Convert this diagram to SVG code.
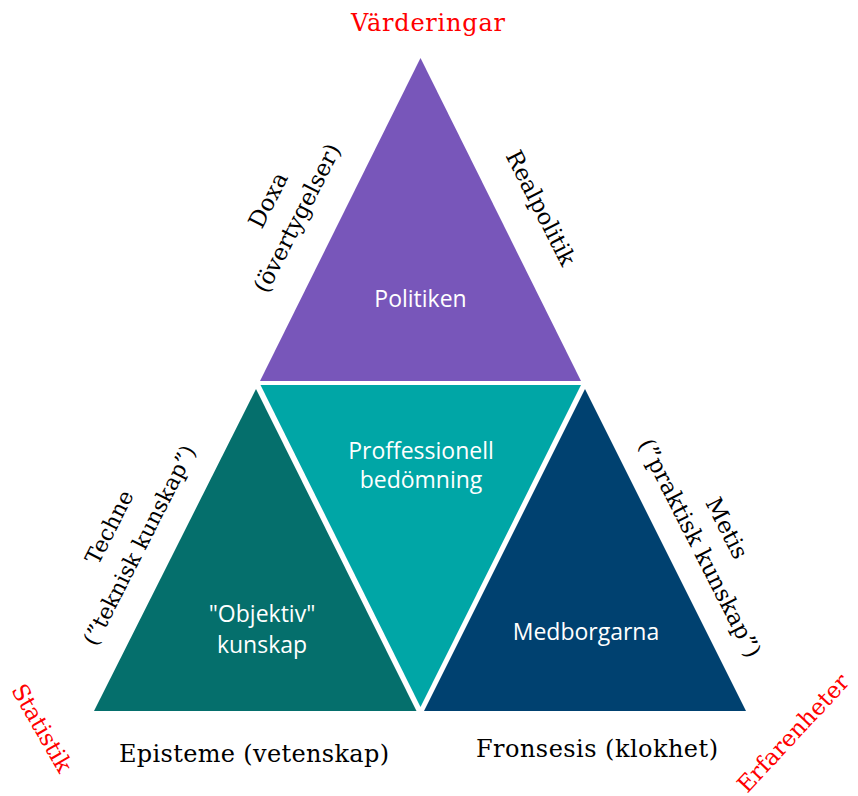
<svg xmlns="http://www.w3.org/2000/svg" width="858" height="796" viewBox="0 0 858 796">
<style>
.serif{font-family:"DejaVu Serif","Liberation Serif",serif;fill:#000;text-anchor:middle}
.red{fill:#ff0000}
.lbl{font-family:"Open Sans","Noto Sans",sans-serif;fill:#fff;font-size:23px;text-anchor:middle}
</style>
<rect width="858" height="796" fill="#fff"/>
<g id="politiken">
<polygon points="420.5,58 260,381 581,381" fill="#7856BA"/>
<text class="lbl" x="420.5" y="307" font-size="22">Politiken</text>
</g>
<g id="objektiv">
<polygon points="256,389 94,711 416.5,711" fill="#056F6C"/>
<text class="lbl" x="262" y="622">"Objektiv"</text>
<text class="lbl" x="262" y="653">kunskap</text>
</g>
<g id="professionell">
<polygon points="260.5,385 581,385 420.5,707" fill="#00A6A6"/>
<text class="lbl" x="421" y="459">Proffessionell</text>
<text class="lbl" x="421" y="488">bedömning</text>
</g>
<g id="medborgarna">
<polygon points="585,389 424,711 746,711" fill="#004170"/>
<text class="lbl" x="586" y="640">Medborgarna</text>
</g>
<g id="labels">
<text class="serif red" x="428" y="31" font-size="24" textLength="154">Värderingar</text>
<text class="serif" x="254" y="762" font-size="24" textLength="270">Episteme (vetenskap)</text>
<text class="serif" x="597" y="757" font-size="24" textLength="242">Fronsesis (klokhet)</text>
<g transform="translate(268,200) rotate(-63)"><text class="serif" x="0" y="8" font-size="23">Doxa</text></g>
<g transform="translate(297,218) rotate(-63)"><text class="serif" x="0" y="8" font-size="23">(övertygelser)</text></g>
<g transform="translate(541,208) rotate(63)"><text class="serif" x="0" y="8" font-size="23">Realpolitik</text></g>
<g transform="translate(109,527) rotate(-63)"><text class="serif" x="0" y="8" font-size="22">Techne</text></g>
<g transform="translate(139,545) rotate(-63)"><text class="serif" x="0" y="8" font-size="22">(”teknisk kunskap”)</text></g>
<g transform="translate(727,528) rotate(63)"><text class="serif" x="0" y="8" font-size="23">Metis</text></g>
<g transform="translate(700,548) rotate(63)"><text class="serif" x="0" y="8" font-size="23">(”praktisk kunskap”)</text></g>
<g transform="translate(42,728) rotate(60)"><text class="serif red" x="0" y="8" font-size="23">Statistik</text></g>
<g transform="translate(793,733) rotate(-47)"><text class="serif red" x="0" y="8" font-size="23">Erfarenheter</text></g>
</g>
</svg>
